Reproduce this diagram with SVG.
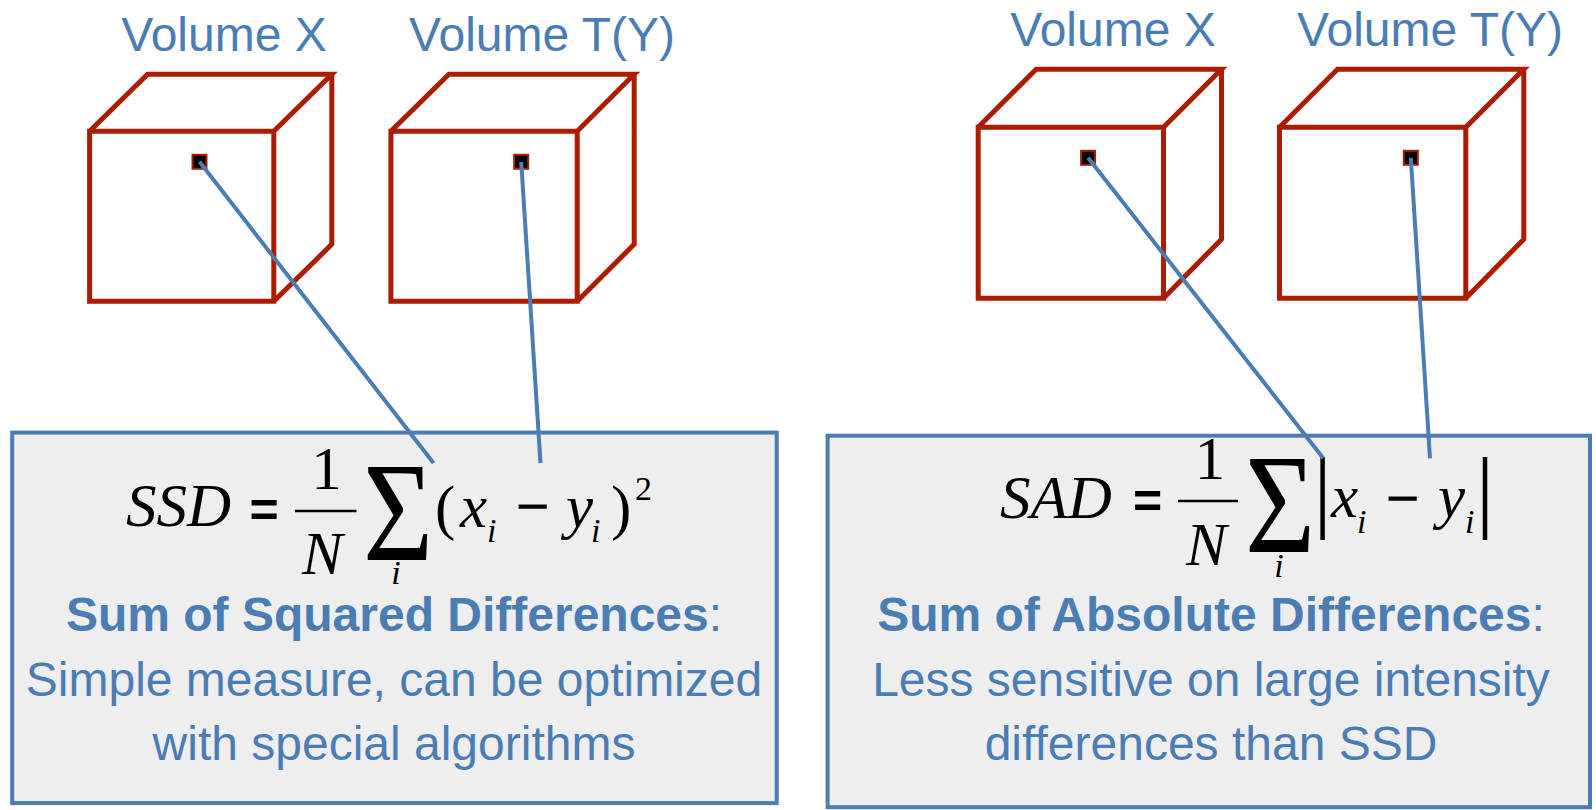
<svg xmlns="http://www.w3.org/2000/svg" width="1596" height="810" viewBox="0 0 1596 810">
<style>
.bg{fill:#ffffff}
.cube{fill:none;stroke:#ad1c00;stroke-width:5;stroke-linejoin:miter}
.vox{fill:#000000;stroke:#ad1c00;stroke-width:2}
.conn{stroke:#4a7db3;stroke-width:4;fill:none}
.box{fill:#eeeeee;stroke:#4a7db3;stroke-width:4}
.lbl{font-family:"Liberation Sans",Arial,sans-serif;font-size:48px;fill:#4a7db3;text-anchor:middle}
.b{font-weight:bold}
.m{font-family:"Liberation Serif","Times New Roman",serif;font-style:italic;font-size:61px;fill:#000}
.r{font-family:"Liberation Serif","Times New Roman",serif;fill:#000}
.n{font-size:61px}
.s{font-size:34px}
.sig{font-size:142px}
.vb1{font-size:91px}
.vb2{font-size:90px}
.op{font-family:"Liberation Sans",Arial,sans-serif;font-weight:bold;font-size:50px;fill:#000;text-anchor:middle}
.mn{font-family:"Liberation Serif","Times New Roman",serif;font-size:58px;fill:#000;stroke:#000;stroke-width:1.2;text-anchor:middle}
.bar{stroke:#000;stroke-width:2.5}
</style>
<rect class="bg" x="0" y="0" width="1596" height="810"/>

<g id="label-left-x"><text class="lbl" x="224" y="51">Volume X</text></g>
<g id="label-left-ty"><text class="lbl" x="542" y="51">Volume T(Y)</text></g>
<g id="label-right-x"><text class="lbl" x="1113" y="46">Volume X</text></g>
<g id="label-right-ty"><text class="lbl" x="1430" y="46">Volume T(Y)</text></g>

<g id="cube-left-x">
<path class="cube" d="M89.6,131.3 H273.8 V301.3 H89.6 Z M89.6,131.3 L147.6,74.3 H331.8 L273.8,131.3 M331.8,74.3 V244.3 L273.8,301.3"/>
<rect class="vox" x="192.5" y="154.8" width="14" height="14"/>
</g>
<g id="cube-left-ty">
<path class="cube" d="M390.9,131.3 H577.2 V301.3 H390.9 Z M390.9,131.3 L448.9,74.3 H634.2 L577.2,131.3 M634.2,74.3 V244.3 L577.2,301.3"/>
<rect class="vox" x="514.2" y="154.8" width="14" height="14"/>
</g>
<g id="cube-right-x">
<path class="cube" d="M978.2,127.2 H1163.5 V298.2 H978.2 Z M978.2,127.2 L1036.2,69.2 H1221.5 L1163.5,127.2 M1221.5,69.2 V239.2 L1163.5,298.2"/>
<rect class="vox" x="1081.1" y="150.8" width="14" height="14"/>
</g>
<g id="cube-right-ty">
<path class="cube" d="M1279.5,127.2 H1465.8 V298.2 H1279.5 Z M1279.5,127.2 L1337.5,69.2 H1523.8 L1465.8,127.2 M1523.8,69.2 V239.2 L1465.8,298.2"/>
<rect class="vox" x="1403.8" y="150.8" width="14" height="14"/>
</g>

<g id="box-ssd">
<rect class="box" x="12.2" y="432.6" width="764.5" height="370.5"/>
<text class="m" x="126" y="526">SSD</text>
<text class="op" x="264" y="527">=</text>
<text class="r n" x="326.5" y="489" text-anchor="middle">1</text>
<line class="bar" x1="295" y1="511" x2="356.5" y2="511"/>
<text class="m" x="302" y="574">N</text>
<text class="r sig" transform="translate(363,560) scale(0.85,1)">Σ</text>
<text class="m s" x="396" y="584" text-anchor="middle">i</text>
<text class="r n" x="435" y="528">(</text>
<text class="m" x="460" y="527">x</text>
<text class="m s" x="487" y="542">i</text>
<text class="mn" x="532.5" y="526">−</text>
<text class="m" x="566" y="527">y</text>
<text class="m s" x="591" y="542">i</text>
<text class="r n" x="611" y="528">)</text>
<text class="r s" x="635" y="500">2</text>
<text class="lbl" x="394" y="631"><tspan class="b">Sum of Squared Differences</tspan>:</text>
<text class="lbl" x="394" y="696">Simple measure, can be optimized</text>
<text class="lbl" x="394" y="760">with special algorithms</text>
</g>

<g id="box-sad">
<rect class="box" x="827.6" y="435.7" width="762.4" height="371.5"/>
<text class="m" x="1000" y="518">SAD</text>
<text class="op" x="1147.5" y="518">=</text>
<text class="r n" x="1210" y="479" text-anchor="middle">1</text>
<line class="bar" x1="1178" y1="501" x2="1238" y2="501"/>
<text class="m" x="1186" y="565">N</text>
<text class="r sig" transform="translate(1245,552) scale(0.85,1)">Σ</text>
<text class="m s" x="1279" y="577" text-anchor="middle">i</text>
<text class="r vb1" x="1322.5" y="520.5" text-anchor="middle">|</text>
<text class="m" x="1331" y="517">x</text>
<text class="m s" x="1357" y="533">i</text>
<text class="mn" x="1402.5" y="518">−</text>
<text class="m" x="1438" y="517">y</text>
<text class="m s" x="1465" y="533">i</text>
<text class="r vb2" x="1485" y="520.7" text-anchor="middle">|</text>
<text class="lbl" x="1211" y="631"><tspan class="b">Sum of Absolute Differences</tspan>:</text>
<text class="lbl" x="1211" y="696">Less sensitive on large intensity</text>
<text class="lbl" x="1211" y="760">differences than SSD</text>
</g>

<g id="connectors">
<line class="conn" x1="199.5" y1="161.8" x2="433.5" y2="463"/>
<line class="conn" x1="521.2" y1="161.8" x2="540.5" y2="463"/>
<line class="conn" x1="1088.1" y1="157.8" x2="1323.3" y2="458.3"/>
<line class="conn" x1="1410.8" y1="157.8" x2="1430" y2="458.3"/>
</g>
</svg>
